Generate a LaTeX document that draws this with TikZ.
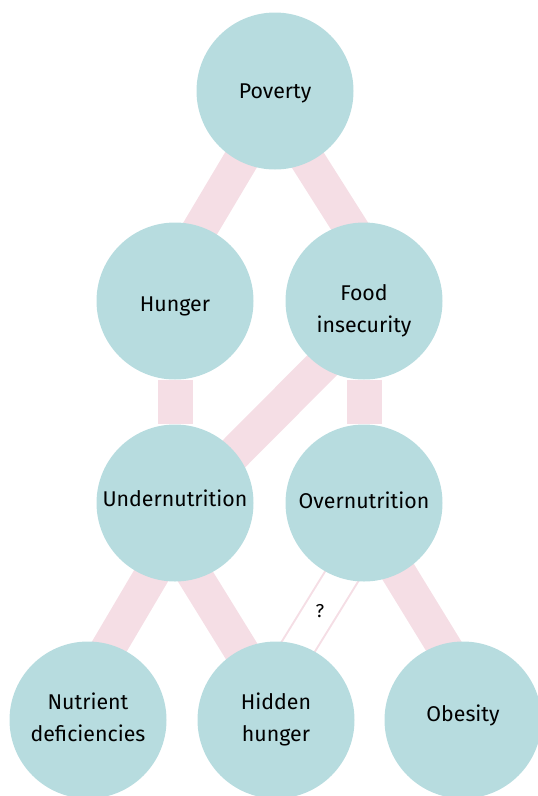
\documentclass[tikz,border=0pt]{standalone}
\usepackage{fontspec}
\setmainfont{Fira Sans}
\usepackage{tikz}
\usetikzlibrary{calc,backgrounds}
\definecolor{bubble}{RGB}{183,220,223}
\definecolor{linkpink}{RGB}{245,222,229}

\begin{document}
\begin{tikzpicture}[x=0.75pt,y=-0.75pt,
  topic/.style={circle,fill=bubble,minimum size=117.75pt,inner sep=0pt,align=center,
    font=\fontsize{16}{24}\selectfont,text=black,text depth=0pt},
  band/.style={linkpink,line width=26.25pt},
  maybe/.style={draw=linkpink,line width=1.5pt,double=white,double distance=23.5pt}]
\useasboundingbox (0,0) rectangle (538,796);
\clip (0,0) rectangle (538,796);
\node[topic] (pov) at (275,91) {Poverty};
\node[topic,text height=16pt] (hun) at (175,301) {Hunger};
\node[topic,text height=47pt] (food) at (364,301) {Food\\insecurity};
\node[topic,text depth=7.5pt] (under) at (175,503) {Undernutrition};
\node[topic,text depth=4.5pt] (over) at (364,503) {Overnutrition};
\node[topic,text depth=4.5pt] (nutr) at (88,720) {Nutrient\\deficiencies};
\node[topic,text depth=4.5pt] (hid) at (276,720) {Hidden\\hunger};
\node[topic,text depth=10pt] (obes) at (463,720) {Obesity};
\begin{scope}[on background layer]
\draw[band] ($(pov)+(7,0)$) -- ($(hun)+(-18,0)$);
\draw[band] ($(pov)+(-11,0)$) -- ($(food)+(33,0)$);
\draw[band] (hun) -- (under);
\draw[band] ($(food)+(22,0)$) -- ($(under)+(10,0)$);
\draw[band] (food) -- (over);
\draw[band] ($(under)+(19,0)$) -- ($(nutr)+(-22,0)$);
\draw[band] ($(under)+(-25,0)$) -- ($(hid)+(8,0)$);
\draw[band] ($(over)+(-8,0)$) -- ($(obes)+(26,0)$);
\draw[maybe] ($(over)+(23,0)$) -- node[font=\fontsize{14}{16}\selectfont] (q) {?} ($(hid)+(-23,0)$);
\end{scope}
\end{tikzpicture}
\end{document}
